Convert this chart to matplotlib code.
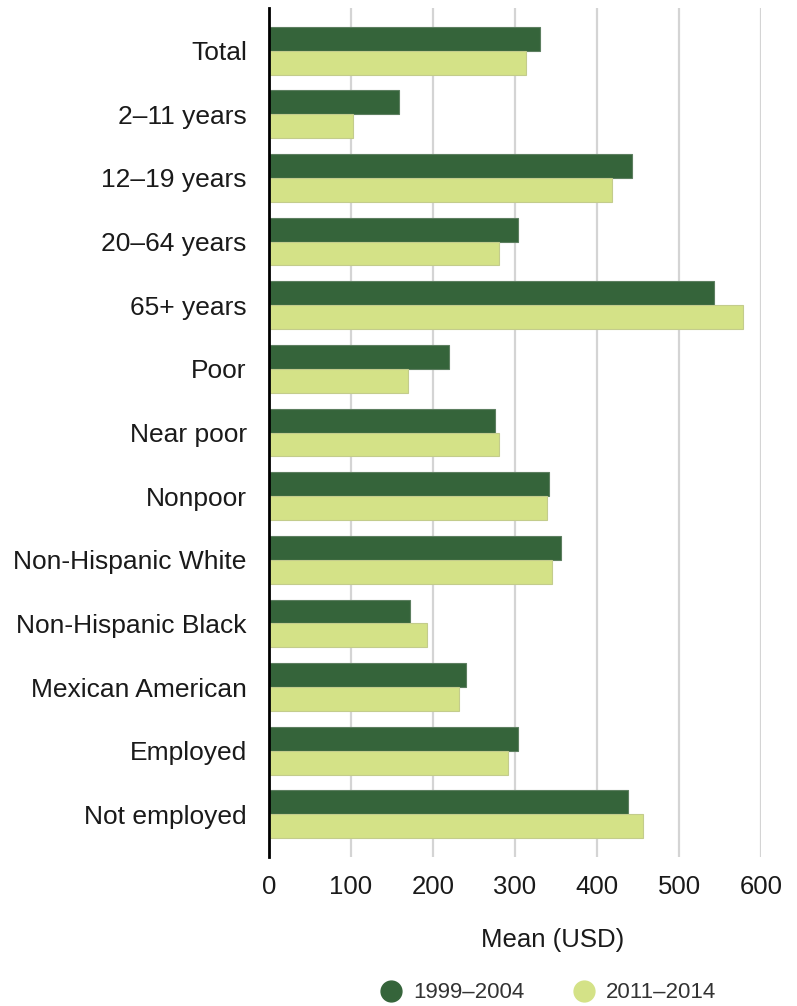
import matplotlib
matplotlib.use("Agg")
import matplotlib.pyplot as plt
from matplotlib.lines import Line2D
import numpy as np

plt.rcParams['font.family'] = ['Liberation Sans', 'DejaVu Sans']

# Kategorier og værdier
kategorier = ["Total", "2\u201311 years", "12\u201319 years", "20\u201364 years", "65+ years",
              "Poor", "Near poor", "Nonpoor", "Non-Hispanic White", "Non-Hispanic Black",
              "Mexican American", "Employed", "Not employed"]
v_1999_2004 = [330, 159, 443, 304, 543, 219, 276, 342, 356, 172, 240, 304, 438]
v_2011_2014 = [313, 103, 418, 281, 578, 170, 281, 339, 345, 193, 232, 292, 456]
serie_navne = ["1999\u20132004", "2011\u20132014"]
x_ticks = [0, 100, 200, 300, 400, 500, 600]

dark = "#35643a"
light = "#d4e287"

fig = plt.figure(figsize=(7.97, 10.06), dpi=100)
ax = fig.add_axes([269 / 797, 1 - 857 / 1006, (761 - 269) / 797, (857 - 8) / 1006])

y = np.arange(len(kategorier))
h = 0.375
ax.barh(y - h / 2, v_1999_2004, height=h, color=dark, edgecolor="#5d7f60", linewidth=0.8, zorder=3)
ax.barh(y + h / 2, v_2011_2014, height=h, color=light, edgecolor="#c3cc8c", linewidth=0.8, zorder=3)

ax.set_xlim(0, 600)
ax.set_ylim(len(kategorier) - 1 + 0.67, -0.67)
ax.set_xticks(x_ticks)
ax.set_yticks(y)
ax.set_yticklabels(kategorier, fontsize=19, color="#1a1a1a")
ax.tick_params(axis="x", length=0, pad=13, labelsize=18.5, labelcolor="#1a1a1a")
ax.tick_params(axis="y", length=0, pad=16)

ax.grid(axis="x", color="#d4d4d4", linewidth=1.6, zorder=0)
for s in ["top", "right", "bottom"]:
    ax.spines[s].set_visible(False)
ax.spines["left"].set_color("black")
ax.spines["left"].set_linewidth(2)
ax.spines["left"].set_zorder(4)

ax.set_xlabel("Mean (USD)", fontsize=18.5, color="#1a1a1a")
ax.xaxis.set_label_coords((553 - 269) / (761 - 269), -83 / 849)
ax.xaxis.label.set_va("center")

handles = [Line2D([], [], marker="o", linestyle="", markersize=15, color=dark),
           Line2D([], [], marker="o", linestyle="", markersize=15, color=light)]
fig.legend(handles, serie_navne, loc="center", bbox_to_anchor=(548 / 797, 1 - 993 / 1006),
           ncol=2, frameon=False, fontsize=16, handlelength=1.0, handletextpad=0.5,
           columnspacing=2.2, labelcolor="#333333")

fig.savefig("out.png", dpi=100)
